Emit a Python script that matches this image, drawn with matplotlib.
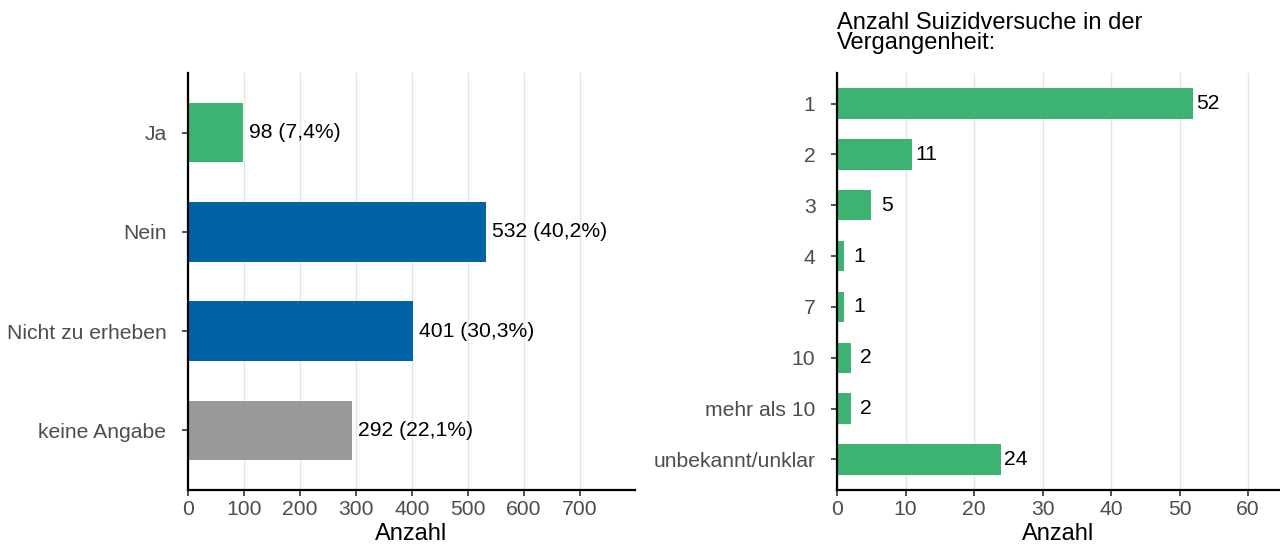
import matplotlib
matplotlib.use("Agg")
import matplotlib.pyplot as plt

plt.rcParams['font.family'] = ['Liberation Sans', 'DejaVu Sans']

# Left panel data
left_cats = ["Ja", "Nein", "Nicht zu erheben", "keine Angabe"]
left_vals = [98, 532, 401, 292]
left_pcts = ["7,4%", "40,2%", "30,3%", "22,1%"]
left_colors = ["#3CB371", "#0063A6", "#0063A6", "#999999"]
left_ticks = [0, 100, 200, 300, 400, 500, 600, 700]

# Right panel data
right_cats = ["1", "2", "3", "4", "7", "10", "mehr als 10", "unbekannt/unklar"]
right_vals = [52, 11, 5, 1, 1, 2, 2, 24]
right_ticks = [0, 10, 20, 30, 40, 50, 60]
right_title = "Anzahl Suizidversuche in der\nVergangenheit:"

fig = plt.figure(figsize=(12.8, 5.45), dpi=100)

ax1 = fig.add_axes([188/1280, 1-490/545, (635-188)/1280, (490-73)/545])
ax2 = fig.add_axes([837/1280, 1-490/545, (1279-837)/1280, (490-73)/545])

tick_color = "#4D4D4D"
grid_color = "#E5E5E5"
FS = 15.2

def style(ax, ticks, xmax, n):
    ax.set_xlim(0, xmax)
    ax.set_ylim(n + 0.6, 0.4)
    ax.set_xticks(ticks)
    ax.set_xticklabels([str(t) for t in ticks])
    ax.grid(axis='x', color=grid_color, linewidth=1.0)
    ax.set_axisbelow(True)
    for s in ['top', 'right']:
        ax.spines[s].set_visible(False)
    for s in ['left', 'bottom']:
        ax.spines[s].set_linewidth(1.6)
        ax.spines[s].set_color('black')
    ax.tick_params(axis='both', colors='#333333', labelcolor=tick_color,
                   labelsize=FS, length=4.5, width=1.2)
    ax.tick_params(axis='y', pad=11)
    ax.tick_params(axis='x', pad=2.5)
    ax.set_xlabel("Anzahl", fontsize=17, labelpad=3, color='black')

# Left
pos1 = list(range(1, len(left_cats) + 1))
ax1.barh(pos1, left_vals, height=0.6, color=left_colors)
ax1.set_yticks(pos1)
ax1.set_yticklabels(left_cats)
style(ax1, left_ticks, 798, len(left_cats))
for p, v, pc in zip(pos1, left_vals, left_pcts):
    ax1.annotate(f"{v} ({pc})", xy=(v, p), xytext=(4.5, 0), textcoords='offset points',
                 ha='left', va='center', fontsize=FS, color='black')

# Right
pos2 = list(range(1, len(right_cats) + 1))
ax2.barh(pos2, right_vals, height=0.6, color="#3CB371")
ax2.set_yticks(pos2)
ax2.set_yticklabels(right_cats)
style(ax2, right_ticks, 64.5, len(right_cats))
for p, v in zip(pos2, right_vals):
    s = str(v)
    ax2.annotate(s, xy=(v, p), xytext=(1.8 + 5.0 * (2 - len(s)), 0), textcoords='offset points',
                 ha='left', va='center', fontsize=FS, color='black')

fig.text(837/1280, 1-12/545, right_title, ha='left', va='top', fontsize=17, color='black',
         linespacing=0.9)

fig.savefig("out.png", dpi=100)
